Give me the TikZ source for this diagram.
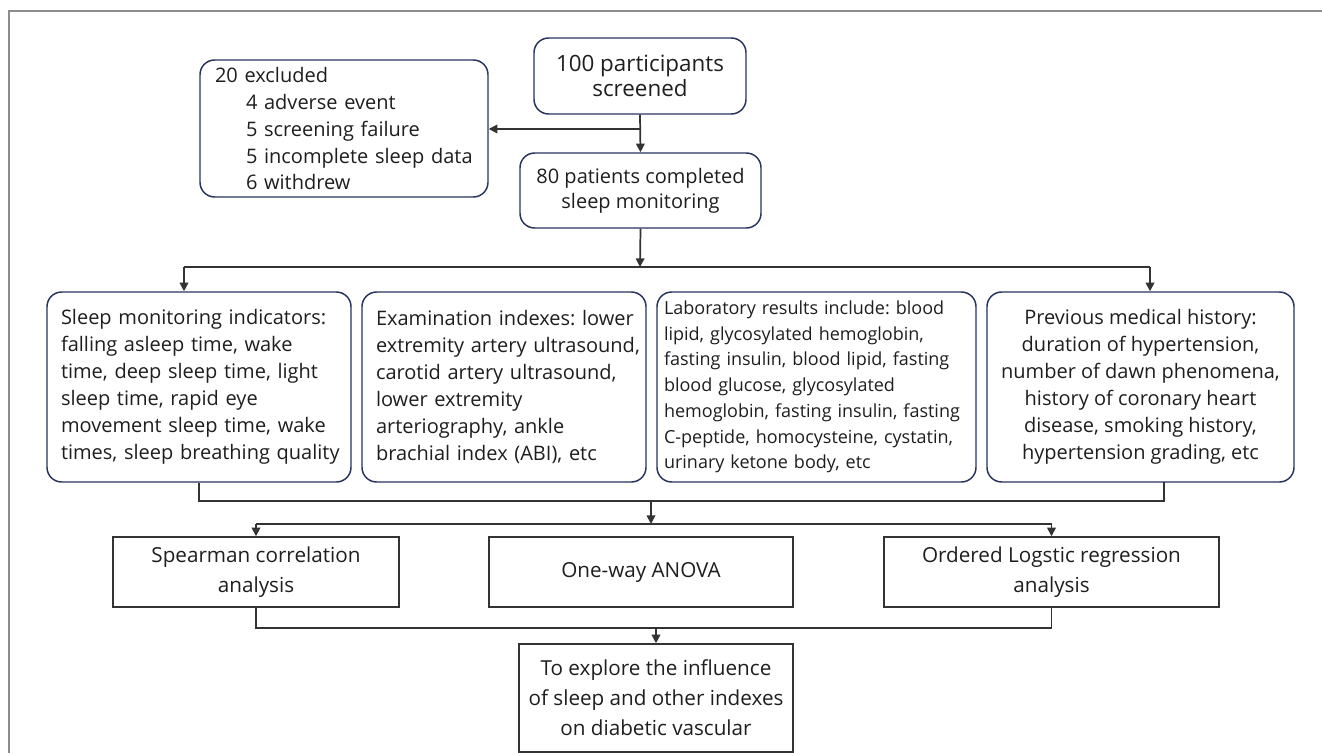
\documentclass[tikz,border=0pt]{standalone}
\usepackage{fontspec}
\setmainfont{Open Sans}
\usetikzlibrary{arrows.meta,calc}
\definecolor{navy}{HTML}{27325F}
\definecolor{conn}{HTML}{333333}
\definecolor{txt}{HTML}{1E1E1E}
\definecolor{framegray}{HTML}{8C8C8C}
\frenchspacing
\tikzset{
  rbox/.style={draw=navy, line width=1.1pt, rounded corners=11pt, inner sep=0pt, text=txt,
    font=\fontsize{15}{20.25}\selectfont},
  sbox/.style={draw=conn, line width=1.1pt, inner sep=0pt, text=txt, align=center,
    font=\fontsize{15.5}{22.5}\selectfont},
  link/.style={draw=conn, line width=1.3pt},
  arr/.style={link, -{Triangle[length=6.5pt,width=6.5pt]}},
}
\begin{document}
\begin{tikzpicture}[x=0.75pt,y=-0.75pt]
\useasboundingbox (0,0) rectangle (1322,753);
% outer frame
\draw[framegray, line width=1.4pt] (9,753) -- (9,11) -- (1322,11);

% top boxes
\node[rbox, minimum width=159pt, minimum height=57pt, align=center,
  font=\fontsize{16.8}{18.75}\selectfont] (scr) at (640,76) {100 participants\\screened};
\node[rbox, minimum width=216pt, minimum height=102.75pt, text width=193.5pt, align=left] (exc) at (344,128.5)
  {\mbox{20 excluded}\\
   \hspace*{23.25pt}\mbox{4 adverse event}\\
   \hspace*{23.25pt}\mbox{5 screening failure}\\
   \hspace*{23.25pt}\mbox{5 incomplete sleep data}\\
   \hspace*{23.25pt}\mbox{6 withdrew}};
\node[rbox, minimum width=180.75pt, minimum height=56.25pt, align=center,
  font=\fontsize{15}{18.75}\selectfont] (pat) at (640.5,190.5) {80 patients completed\\sleep monitoring};

% four category boxes
\node[rbox, minimum width=228pt, minimum height=142.5pt, text width=207pt, align=left] (b1) at (199,387)
  {\mbox{Sleep monitoring indicators:}\\
   \mbox{falling asleep time, wake}\\
   \mbox{time, deep sleep time, light}\\
   \mbox{sleep time, rapid eye}\\
   \mbox{movement sleep time, wake}\\
   \mbox{times, sleep breathing quality}};
\node[rbox, minimum width=213pt, minimum height=142.5pt, text width=192pt, align=left] (b2) at (504,387)
  {\mbox{Examination indexes: lower}\\
   \mbox{extremity artery ultrasound,}\\
   \mbox{carotid artery ultrasound,}\\
   \mbox{lower extremity}\\
   \mbox{arteriography, ankle}\\
   \mbox{brachial index (ABI), etc}};
\node[rbox, minimum width=239.25pt, minimum height=142.5pt, text width=228.75pt, align=left,
  font=\fontsize{13.5}{19.3}\selectfont] (b3) at (816.5,387)
  {\mbox{Laboratory results include: blood}\\
   \mbox{lipid, glycosylated hemoglobin,}\\
   \mbox{fasting insulin, blood lipid, fasting}\\
   \mbox{blood glucose, glycosylated}\\
   \mbox{hemoglobin, fasting insulin, fasting}\\
   \mbox{C-peptide, homocysteine, cystatin,}\\
   \mbox{urinary ketone body, etc}};
\node[rbox, minimum width=230.25pt, minimum height=142.5pt, align=center] (b4) at (1140.5,387)
  {Previous medical history:\\
   duration of hypertension,\\
   number of dawn phenomena,\\
   history of coronary heart\\
   disease, smoking history,\\
   hypertension grading, etc};

% analysis boxes
\node[sbox, minimum width=214.5pt, minimum height=52.5pt] (spe) at (256,572) {Spearman correlation\\analysis};
\node[sbox, minimum width=228pt, minimum height=52.5pt] (ano) at (641,572) {One-way ANOVA};
\node[sbox, minimum width=251.25pt, minimum height=52.5pt] (ord) at (1051.5,572) {Ordered Logstic regression\\analysis};
\node[sbox, minimum width=205.5pt, minimum height=81pt] (fin) at (656,698)
  {To explore the influence\\of sleep and other indexes\\on diabetic vascular};

% connectors
\coordinate (j1) at (640,129);
\draw[arr] (scr.south) -- (pat.north);
\draw[arr] (j1) -- (exc.east |- j1);

\coordinate (j2) at (640,267);
\coordinate (j2l) at (184,267);
\coordinate (j2r) at (1150,267);
\draw[arr] (pat.south) -- (j2);
\draw[link] (j2l) -- (j2r);
\draw[arr] (j2l) -- (b1.north -| j2l);
\draw[arr] (j2r) -- (b4.north -| j2r);

\coordinate (j3) at (651,501);
\coordinate (b4s) at (1164,482);
\draw[link] (b1.south) |- (j3) -| (b4s);
\coordinate (j4) at (651,524);
\draw[arr] (j3) -- (j4);
\coordinate (j4l) at (256,524);
\coordinate (j4r) at (1051.5,524);
\draw[link] (j4l) -- (j4r);
\draw[arr] (j4l) -- (spe.north);
\draw[arr] (j4r) -- (ord.north);

\coordinate (j5) at (656,628);
\draw[link] (spe.south) |- (j5) -| (ord.south);
\draw[arr] (j5) -- (fin.north);
\end{tikzpicture}
\end{document}
